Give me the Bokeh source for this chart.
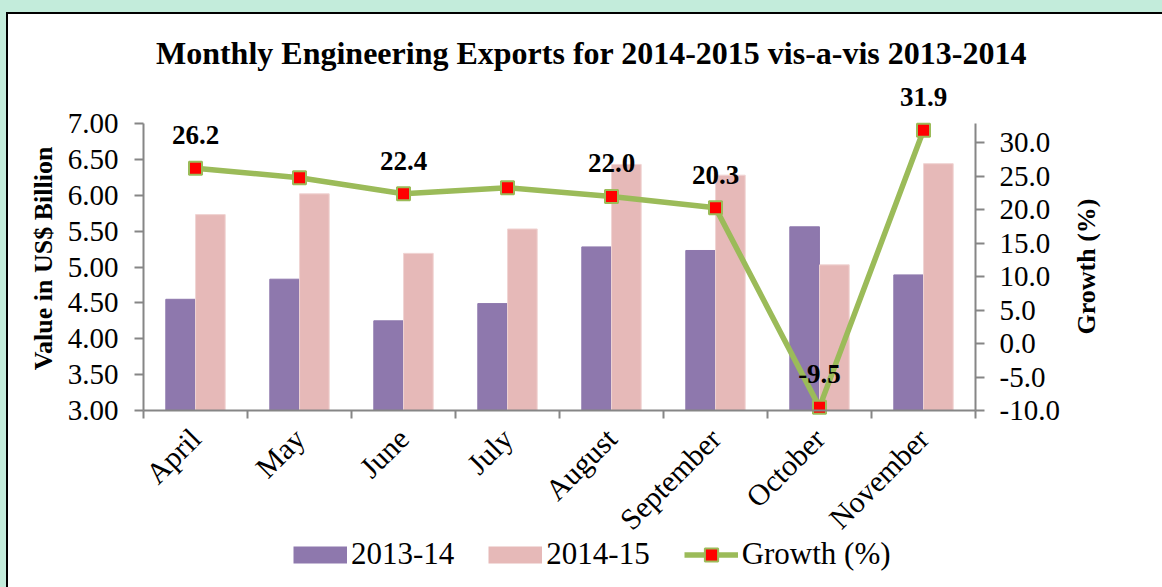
import math
from bokeh.plotting import figure
from bokeh.models import (Range1d, LinearAxis, FixedTicker, NumeralTickFormatter,
                          Legend, LegendItem, LabelSet, Label, ColumnDataSource)
from bokeh.embed import file_html
from bokeh.resources import INLINE

# ---------------- data ----------------
months = ["April", "May", "June", "July", "August", "September", "October", "November"]
exports_2013_14 = [4.55, 4.83, 4.25, 4.49, 5.28, 5.23, 5.56, 4.89]
exports_2014_15 = [5.73, 6.02, 5.19, 5.53, 6.43, 6.28, 5.03, 6.44]
growth = [26.2, 24.8, 22.4, 23.3, 22.0, 20.3, -9.5, 31.9]
growth_labels = ["26.2", "", "22.4", "", "22.0", "20.3", "-9.5", "31.9"]
left_ticks = [3.0, 3.5, 4.0, 4.5, 5.0, 5.5, 6.0, 6.5, 7.0]
right_ticks = [-10, -5, 0, 5, 10, 15, 20, 25, 30]
right_axis_bounds = (-10, 32.9)
series_names = ["2013-14", "2014-15", "Growth (%)"]
title_text = "Monthly Engineering Exports for 2014-2015 vis-a-vis 2013-2014"
left_title = "Value in US$ Billion"
right_title = "Growth (%)"

# ---------------- styles / layout ----------------
FONT = "Liberation Serif"
PURPLE = "#8e78ad"
PINK = "#e6b9b8"
GREEN = "#9bbb59"
AXIS = "#868686"
BG_GREEN = "#c3ecdb"

W, H = 1162, 587
AX_LEFT, AX_RIGHT = 143, 975      # axis box (px) inside the full-canvas frame
AX_TOP, AX_BOTTOM = 123, 410

n = len(months)
xc = [i + 0.5 for i in range(n)]
off = 0.143
bw = 0.285

# the frame spans the whole canvas; axes sit at fixed locations with bounds
xppu = (AX_RIGHT - AX_LEFT) / n
x_range = (0 - AX_LEFT / xppu, n + (W - AX_RIGHT) / xppu)
l0, l1 = left_ticks[0], left_ticks[-1]
lppu = (AX_BOTTOM - AX_TOP) / (l1 - l0)
r0, r1 = right_axis_bounds
rppu = (AX_BOTTOM - AX_TOP) / (r1 - r0)
left_range = (l0 - (H - AX_BOTTOM) / lppu, l1 + AX_TOP / lppu)
right_range = (r0 - (H - AX_BOTTOM) / rppu, r1 + AX_TOP / rppu)

src = ColumnDataSource(dict(
    xc=xc,
    x1=[x - off for x in xc],
    x2=[x + off for x in xc],
    v1=exports_2013_14,
    v2=exports_2014_15,
    g=growth,
    lab=growth_labels,
))

p = figure(width=W, height=H, output_backend="svg", toolbar_location=None,
           x_range=Range1d(*x_range), y_range=Range1d(*left_range),
           min_border=0, border_fill_color=None, background_fill_color=None,
           outline_line_color=None)
p.extra_y_ranges = {"growth": Range1d(*right_range)}
p.xgrid.visible = False
p.ygrid.visible = False

# bars
b1 = p.vbar(x="x1", top="v1", bottom=l0, width=bw, source=src,
            fill_color=PURPLE, line_color=PURPLE)
b2 = p.vbar(x="x2", top="v2", bottom=l0, width=bw, source=src,
            fill_color=PINK, line_color="#f0d4d3")

# growth line
ln = p.line(x="xc", y="g", source=src, y_range_name="growth",
            line_color=GREEN, line_width=5.5)
mk = p.scatter(x="xc", y="g", source=src, y_range_name="growth", marker="square",
               size=13, fill_color="#ff0000", line_color=GREEN, line_width=2)

labels = LabelSet(x="xc", y="g", text="lab", source=src, y_range_name="growth",
                  y_offset=33, text_align="center", text_baseline="middle",
                  text_font=FONT, text_font_size="27px", text_font_style="bold",
                  text_color="black")
p.add_layout(labels)

# title and axis titles (screen units inside the full-canvas frame)
p.add_layout(Label(x=591, y=H - 52, x_units="screen", y_units="screen",
                   text=title_text, text_align="center", text_baseline="middle",
                   text_font=FONT, text_font_size="32px", text_font_style="bold",
                   text_color="black"))
p.add_layout(Label(x=43, y=H - 258, x_units="screen", y_units="screen",
                   text=left_title, angle=math.pi / 2, text_align="center",
                   text_baseline="middle", text_font=FONT, text_font_size="26px",
                   text_font_style="bold", text_color="black"))
p.add_layout(Label(x=1086, y=H - 266, x_units="screen", y_units="screen",
                   text=right_title, angle=math.pi / 2, text_align="center",
                   text_baseline="middle", text_font=FONT, text_font_size="26px",
                   text_font_style="bold", text_color="black"))

# x axis
xa = p.xaxis[0]
xa.fixed_location = l0
xa.bounds = (0, n)
xa.ticker = FixedTicker(ticks=xc, minor_ticks=list(range(n + 1)))
xa.major_label_overrides = {x: m for x, m in zip(xc, months)}
xa.major_label_orientation = math.pi / 4
xa.major_tick_out = 0
xa.major_tick_in = 0
xa.minor_tick_out = 8
xa.minor_tick_in = 0
xa.minor_tick_line_color = AXIS
xa.minor_tick_line_width = 2
xa.axis_line_color = AXIS
xa.axis_line_width = 2
xa.major_label_text_font = FONT
xa.major_label_text_font_size = "30px"
xa.major_label_text_color = "black"
xa.major_label_standoff = 15


def style_y(ax):
    ax.major_label_text_font = FONT
    ax.major_label_text_font_size = "29px"
    ax.major_label_text_color = "black"
    ax.major_tick_out = 9
    ax.major_tick_in = 0
    ax.minor_tick_out = 0
    ax.minor_tick_in = 0
    ax.major_tick_line_color = AXIS
    ax.major_tick_line_width = 2
    ax.axis_line_color = AXIS
    ax.axis_line_width = 2


# left axis
ya = p.yaxis[0]
ya.fixed_location = 0
ya.ticker = FixedTicker(ticks=left_ticks)
ya.bounds = (l0, l1)
ya.formatter = NumeralTickFormatter(format="0.00")
style_y(ya)
ya.major_label_standoff = 16

# right axis
ra = LinearAxis(y_range_name="growth", ticker=FixedTicker(ticks=right_ticks),
                formatter=NumeralTickFormatter(format="0.0"),
                bounds=right_axis_bounds, fixed_location=n)
style_y(ra)
ra.major_label_standoff = 15
p.add_layout(ra, "right")

# legend (bar swatches drawn via proxy lines so the square marker can be larger)
nan = float("nan")
px1 = p.line(x=[nan], y=[nan], line_color=PURPLE, line_width=17, line_cap="butt")
px2 = p.line(x=[nan], y=[nan], line_color=PINK, line_width=17, line_cap="butt")
legend = Legend(items=[LegendItem(label=series_names[0], renderers=[px1]),
                       LegendItem(label=series_names[1], renderers=[px2]),
                       LegendItem(label=series_names[2], renderers=[ln, mk])],
                orientation="horizontal", padding=0, margin=0,
                border_line_color=None, background_fill_alpha=0,
                label_text_font=FONT, label_text_font_size="31px",
                label_text_color="black", label_standoff=4, spacing=34,
                glyph_width=54, glyph_height=33, location=(293, 15))
p.add_layout(legend)

html = file_html(p, INLINE)
css = ("<style>body{background:"
       "linear-gradient(#000,#000) 6px 12px / 100% 2px no-repeat,"
       "linear-gradient(#000,#000) 6px 12px / 2px 100% no-repeat,"
       f"linear-gradient({BG_GREEN},{BG_GREEN}) 0 0 / 100% 12px no-repeat,"
       f"linear-gradient({BG_GREEN},{BG_GREEN}) 0 0 / 6px 100% no-repeat,"
       "#ffffff;}</style>")
html = html.replace("</head>", css + "</head>", 1)
open("out.html", "w").write(html)
